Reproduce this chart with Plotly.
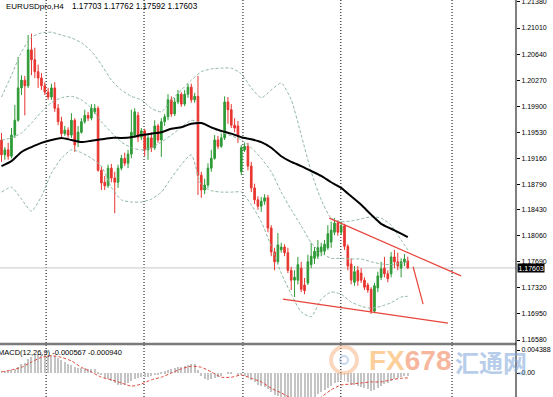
import plotly.graph_objects as go

# ---------------- data ----------------
bar_idx = list(range(123))

open_ = [1.1942, 1.1921, 1.1928, 1.1919, 1.1949, 1.1970, 1.2016, 1.2027, 1.2019, 1.2070,
         1.2056, 1.2039, 1.2030, 1.2019, 1.2010, 1.2003, 1.2016, 1.1987, 1.1968, 1.1951,
         1.1956, 1.1949, 1.1970, 1.1942, 1.1953, 1.1968, 1.1977, 1.1973, 1.1982, 1.1987,
         1.1899, 1.1882, 1.1877, 1.1902, 1.1888, 1.1882, 1.1902, 1.1916, 1.1909, 1.1922,
         1.1949, 1.1977, 1.1946, 1.1955, 1.1928, 1.1945, 1.1931, 1.1962, 1.1942, 1.1968,
         1.1975, 1.1999, 1.1979, 1.1996, 1.2007, 1.1993, 1.2007, 1.2017, 1.1999, 1.2004,
         1.1892, 1.1871, 1.1878, 1.1902, 1.1916, 1.1942, 1.1933, 1.1945, 1.1996, 1.1985,
         1.1963, 1.1962, 1.1897, 1.1928, 1.1933, 1.1905, 1.1874, 1.1857, 1.1848, 1.1855,
         1.1860, 1.1817, 1.1783, 1.1769, 1.1786, 1.1790, 1.1782, 1.1757, 1.1743, 1.1743,
         1.1760, 1.1736, 1.1739, 1.1765, 1.1774, 1.1777, 1.1783, 1.1784, 1.1789, 1.1797,
         1.1811, 1.1824, 1.1811, 1.1820, 1.1791, 1.1766, 1.1740, 1.1757, 1.1753, 1.1743,
         1.1736, 1.1730, 1.1699, 1.1732, 1.1747, 1.1760, 1.1752, 1.1752, 1.1776, 1.1769,
         1.1760, 1.1769, 1.17703]
high = [1.1952, 1.1932, 1.1938, 1.1959, 1.1992, 1.2060, 1.2034, 1.2033, 1.2091, 1.2093,
        1.2073, 1.2049, 1.2037, 1.2024, 1.2016, 1.2022, 1.2024, 1.1993, 1.1975, 1.1962,
        1.1960, 1.1980, 1.1973, 1.1962, 1.1973, 1.1985, 1.1982, 1.1993, 1.1993, 1.1990,
        1.1904, 1.1891, 1.1907, 1.1908, 1.1897, 1.1907, 1.1921, 1.1924, 1.1928, 1.1985,
        1.1987, 1.1982, 1.1959, 1.1958, 1.1951, 1.1953, 1.1970, 1.1965, 1.1973, 1.1979,
        1.2007, 1.2004, 1.2002, 1.2013, 1.2010, 1.2013, 1.2022, 1.2022, 1.2009, 1.2033,
        1.1897, 1.1887, 1.1909, 1.1928, 1.1949, 1.1948, 1.1951, 1.2004, 1.2003, 1.1993,
        1.1973, 1.1969, 1.1935, 1.1938, 1.1938, 1.1911, 1.1880, 1.1862, 1.1861, 1.1865,
        1.1864, 1.1821, 1.1789, 1.1810, 1.1796, 1.1794, 1.1789, 1.1762, 1.1757, 1.1776,
        1.1769, 1.1746, 1.1779, 1.1796, 1.1790, 1.1800, 1.1796, 1.1800, 1.1821, 1.1826,
        1.1831, 1.1828, 1.1826, 1.1823, 1.1794, 1.1774, 1.1763, 1.1763, 1.1760, 1.1747,
        1.1739, 1.1733, 1.1739, 1.1755, 1.1769, 1.1776, 1.1757, 1.1783, 1.1786, 1.1782,
        1.1774, 1.1780, 1.17762]
low = [1.1911, 1.1914, 1.1914, 1.1916, 1.1945, 1.1968, 1.2006, 1.1977, 1.2016, 1.2034,
       1.2030, 1.2016, 1.2013, 1.2006, 1.1999, 1.1999, 1.1982, 1.1963, 1.1946, 1.1948,
       1.1945, 1.1945, 1.1925, 1.1932, 1.1951, 1.1965, 1.1969, 1.1970, 1.1979, 1.1897,
       1.1871, 1.1871, 1.1874, 1.1882, 1.1838, 1.1874, 1.1899, 1.1905, 1.1902, 1.1916,
       1.1945, 1.1939, 1.1942, 1.1919, 1.1914, 1.1925, 1.1928, 1.1938, 1.1918, 1.1962,
       1.1970, 1.1975, 1.1976, 1.1993, 1.1989, 1.1990, 1.2002, 1.1995, 1.1995, 1.1864,
       1.1860, 1.1865, 1.1874, 1.1897, 1.1914, 1.1929, 1.1931, 1.1942, 1.1965, 1.1959,
       1.1953, 1.1938, 1.1892, 1.1925, 1.1899, 1.1868, 1.1851, 1.1843, 1.1840, 1.1850,
       1.1811, 1.1777, 1.1757, 1.1766, 1.1782, 1.1777, 1.1753, 1.1729, 1.1719, 1.1737,
       1.1726, 1.1723, 1.1736, 1.1760, 1.1766, 1.1773, 1.1777, 1.1779, 1.1786, 1.1789,
       1.1807, 1.1806, 1.1807, 1.1786, 1.1757, 1.1737, 1.1735, 1.1735, 1.1739, 1.1729,
       1.1725, 1.1695, 1.1696, 1.1726, 1.1743, 1.1747, 1.1740, 1.1747, 1.1760, 1.1757,
       1.1747, 1.1763, 1.17592]
close = [1.1921, 1.1928, 1.1919, 1.1949, 1.1970, 1.2016, 1.2027, 1.2019, 1.2070, 1.2056,
         1.2039, 1.2030, 1.2019, 1.2010, 1.2003, 1.2016, 1.1987, 1.1968, 1.1951, 1.1956,
         1.1949, 1.1970, 1.1935, 1.1953, 1.1968, 1.1977, 1.1973, 1.1987, 1.1987, 1.1899,
         1.1881, 1.1877, 1.1902, 1.1888, 1.1882, 1.1902, 1.1916, 1.1909, 1.1922, 1.1953,
         1.1982, 1.1946, 1.1955, 1.1928, 1.1945, 1.1931, 1.1962, 1.1942, 1.1968, 1.1975,
         1.1999, 1.1979, 1.1996, 1.2007, 1.1993, 1.2007, 1.2017, 1.1999, 1.2004, 1.1892,
         1.1871, 1.1878, 1.1902, 1.1916, 1.1942, 1.1933, 1.1945, 1.1996, 1.1985, 1.1963,
         1.1959, 1.1948, 1.1931, 1.1933, 1.1905, 1.1874, 1.1857, 1.1848, 1.1855, 1.1860,
         1.1817, 1.1783, 1.1769, 1.1793, 1.1790, 1.1782, 1.1757, 1.1743, 1.1747, 1.1765,
         1.1730, 1.1728, 1.1769, 1.1777, 1.1784, 1.1789, 1.1790, 1.1794, 1.1809, 1.1814,
         1.1824, 1.1811, 1.1820, 1.1791, 1.1763, 1.1743, 1.1755, 1.1742, 1.1743, 1.1733,
         1.1729, 1.1699, 1.1735, 1.1749, 1.1759, 1.1752, 1.1745, 1.1776, 1.1769, 1.1763,
         1.1769, 1.1773, 1.17603]

# indicator lines read at every third bar
ind_idx = [0, 3, 6, 9, 12, 15, 18, 21, 24, 27, 30, 33, 36, 39, 42, 45, 48, 51, 54, 57,
           60, 63, 66, 69, 72, 75, 78, 81, 84, 87, 90, 93, 96, 99, 102, 105, 108, 111,
           114, 117, 120, 122]
ma_line = [1.1905, 1.1912, 1.1925, 1.1932, 1.1938, 1.1942, 1.1945, 1.1942, 1.1939, 1.1941,
           1.1943, 1.1945, 1.1945, 1.1946, 1.1949, 1.1951, 1.1953, 1.1958, 1.1960, 1.1965,
           1.1966, 1.1960, 1.1955, 1.1951, 1.1946, 1.1943, 1.1939, 1.1931, 1.1919, 1.1911,
           1.1905, 1.1898, 1.1891, 1.1882, 1.1874, 1.1862, 1.1850, 1.1836, 1.1823, 1.1816,
           1.1809, 1.1804]
bb_upper = [1.2003, 1.2034, 1.2067, 1.2088, 1.2094, 1.2095, 1.2091, 1.2087, 1.2080, 1.2068,
            1.2049, 1.2027, 1.2013, 1.2004, 1.1999, 1.1987, 1.1982, 1.1999, 1.2013, 1.2027,
            1.2039, 1.2043, 1.2044, 1.2044, 1.2036, 1.2016, 1.2002, 1.2013, 1.2023, 1.1999,
            1.1949, 1.1897, 1.1857, 1.1831, 1.1826, 1.1827, 1.1830, 1.1833, 1.1831, 1.1821,
            1.1800, 1.1786]
bb_mid = [1.1942, 1.1945, 1.1952, 1.1966, 1.1982, 1.1995, 1.2002, 1.2004, 1.1999, 1.1987,
          1.1968, 1.1953, 1.1939, 1.1931, 1.1928, 1.1931, 1.1939, 1.1949, 1.1960, 1.1970,
          1.1966, 1.1959, 1.1953, 1.1948, 1.1942, 1.1931, 1.1916, 1.1897, 1.1868, 1.1843,
          1.1820, 1.1796, 1.1782, 1.1774, 1.1774, 1.1773, 1.1773, 1.1769, 1.1766, 1.1765,
          1.1767, 1.1769]
bb_lower = [1.1868, 1.1875, 1.1858, 1.1841, 1.1862, 1.1895, 1.1916, 1.1928, 1.1924, 1.1916,
            1.1905, 1.1875, 1.1857, 1.1854, 1.1854, 1.1858, 1.1868, 1.1888, 1.1907, 1.1921,
            1.1878, 1.1870, 1.1868, 1.1868, 1.1868, 1.1850, 1.1826, 1.1791, 1.1753, 1.1723,
            1.1698, 1.1691, 1.1716, 1.1726, 1.1723, 1.1712, 1.1706, 1.1703, 1.1706, 1.1711,
            1.1719, 1.1720]

macd_hist = [0.0004, 0.0004, 0.0004, 0.0005, 0.0007, 0.0012, 0.0017, 0.0020, 0.0026, 0.0031,
             0.0034, 0.0036, 0.0036, 0.0036, 0.0035, 0.0035, 0.0032, 0.0028, 0.0024, 0.0021,
             0.0018, 0.0016, 0.0012, 0.0010, 0.0009, 0.0009, 0.0008, 0.0008, 0.0008, 0.0002,
             -0.0004, -0.0009, -0.0011, -0.0016, -0.0020, -0.0022, -0.0023, -0.0022, -0.0020, -0.0016,
             -0.0011, -0.0009, -0.0008, -0.0008, -0.0007, -0.0006, -0.0003, -0.0002, 0.0001, 0.0003,
             0.0006, 0.0007, 0.0009, 0.0011, 0.0012, 0.0014, 0.0016, 0.0017, 0.0018, 0.0005,
             -0.0006, -0.0012, -0.0013, -0.0012, -0.0009, -0.0007, -0.0005, 0.0000, 0.0002, 0.0001,
             0.0000, -0.0002, -0.0004, -0.0005, -0.0008, -0.0013, -0.0018, -0.0022, -0.0025, -0.0027,
             -0.0031, -0.0037, -0.0042, -0.0044, -0.0046, -0.0048, -0.0051, -0.0054, -0.0056, -0.0055,
             -0.0056, -0.0057, -0.0053, -0.0049, -0.0045, -0.0041, -0.0037, -0.0033, -0.0028, -0.0024,
             -0.0019, -0.0017, -0.0014, -0.0015, -0.0018, -0.0022, -0.0023, -0.0025, -0.0026, -0.0028,
             -0.0030, -0.0034, -0.0032, -0.0028, -0.0024, -0.0021, -0.0020, -0.0015, -0.0012, -0.0010,
             -0.0008, -0.0006, -0.000567]
macd_signal = [0.0002, 0.0006, 0.0011, 0.0021, 0.0030, 0.0033, 0.0030, 0.0023, 0.0011, 0.0002,
               -0.0008, -0.0013, -0.0019, -0.0025, -0.0021, -0.0013, -0.0008, 0.0000, 0.0008, 0.0013,
               0.0011, 0.0002, -0.0008, -0.0008, -0.0004, -0.0010, -0.0017, -0.0029, -0.0038, -0.0048,
               -0.0055, -0.0055, -0.0046, -0.0032, -0.0023, -0.0021, -0.0019, -0.0017, -0.0017, -0.0013,
               -0.0010, -0.00094]

# hand-drawn trend lines (bar index, price)
tl_upper_x = [98.4, 138.0]
tl_upper_y = [1.1831, 1.1749]
tl_lower_x = [84.5, 134.1]
tl_lower_y = [1.1716, 1.1682]
tl_arrow_x = [123.6, 126.6]
tl_arrow_y = [1.1762, 1.1709]

# vertical period separators (bar index)
vgrid_idx = [13.4, 42.8, 72.5, 101.9, 135.3]

price_ticks = [1.21380, 1.21010, 1.20640, 1.20270, 1.19900, 1.19530, 1.19160,
               1.18790, 1.18430, 1.18060, 1.17690, 1.17320, 1.16950, 1.16580]
macd_ticks = [0.004388, 0.0]
macd_ticktext = ["0.004388", "0.00"]
last_price = 1.17603

title_symbol = "EURUSDpro,H4"
title_values = "1.17703 1.17762 1.17592 1.17603"
macd_label = "MACD(12,26,9) -0.000567 -0.000940"

# ---------------- styling ----------------
GREEN = "#2e9a36"
RED = "#e8352f"
BAND = "#8fb8a2"
FONT = "Liberation Sans, Arial, sans-serif"
W, H = 553, 397
PLOT_W = 516

fig = go.Figure()

fig.add_trace(go.Candlestick(
    x=bar_idx, open=open_, high=high, low=low, close=close,
    increasing=dict(line=dict(color=GREEN, width=1), fillcolor=GREEN),
    decreasing=dict(line=dict(color=RED, width=1), fillcolor=RED),
    whiskerwidth=0, hoverinfo="skip", showlegend=False, xaxis="x", yaxis="y"))

for band in (bb_upper, bb_mid, bb_lower):
    fig.add_trace(go.Scatter(x=ind_idx, y=band, mode="lines",
                             line=dict(color=BAND, width=1, dash="3px,2px", shape="spline", smoothing=0.6),
                             hoverinfo="skip", showlegend=False, xaxis="x", yaxis="y"))

fig.add_trace(go.Scatter(x=ind_idx, y=ma_line, mode="lines",
                         line=dict(color="black", width=2, shape="spline", smoothing=0.6),
                         hoverinfo="skip", showlegend=False, xaxis="x", yaxis="y"))

for tx, ty in ((tl_upper_x, tl_upper_y), (tl_lower_x, tl_lower_y), (tl_arrow_x, tl_arrow_y)):
    fig.add_trace(go.Scatter(x=tx, y=ty, mode="lines", line=dict(color="#e8453c", width=1.2),
                             hoverinfo="skip", showlegend=False, xaxis="x", yaxis="y", cliponaxis=False))

fig.add_trace(go.Bar(x=bar_idx, y=macd_hist, width=0.3,
                     marker=dict(color="#c4c4c4", line=dict(width=0)),
                     hoverinfo="skip", showlegend=False, xaxis="x", yaxis="y2"))
fig.add_trace(go.Scatter(x=ind_idx, y=macd_signal, mode="lines",
                         line=dict(color="#e0473a", width=1, dash="3px,2px", shape="spline", smoothing=0.6),
                         hoverinfo="skip", showlegend=False, xaxis="x", yaxis="y2"))

shapes = []
for gx in vgrid_idx:
    shapes.append(dict(type="line", xref="x", yref="paper", x0=gx, x1=gx, y0=0, y1=1,
                       line=dict(color="black", width=1, dash="1px,2px"), layer="below"))
shapes.append(dict(type="line", xref="paper", yref="y", x0=0, x1=1, y0=last_price, y1=last_price,
                   line=dict(color="#c8c8c8", width=1), layer="below"))
# panel separator and right axis line
sep_y = 1 - 344 / H
shapes.append(dict(type="line", xref="paper", yref="paper", x0=0, x1=1, y0=sep_y, y1=sep_y,
                   line=dict(color="#7a7a7a", width=2.5)))
shapes.append(dict(type="line", xref="paper", yref="paper", x0=1, x1=1, y0=0, y1=1,
                   line=dict(color="black", width=1)))
# watermark logo ring
shapes.append(dict(type="circle", xref="paper", yref="paper",
                   x0=331 / PLOT_W, x1=357 / PLOT_W, y0=1 - 373 / H, y1=1 - 347 / H,
                   line=dict(color="#f6a870", width=4), opacity=0.45))
shapes.append(dict(type="circle", xref="paper", yref="paper",
                   x0=340 / PLOT_W, x1=348 / PLOT_W, y0=1 - 364 / H, y1=1 - 356 / H,
                   line=dict(color="#8fb0d8", width=2), opacity=0.5))

annotations = [
    dict(xref="paper", yref="paper", x=4 / PLOT_W, y=1 - 7 / H, xanchor="left", yanchor="middle",
         text=title_symbol, showarrow=False, font=dict(family=FONT, size=8, color="black")),
    dict(xref="paper", yref="paper", x=70 / PLOT_W, y=1 - 7 / H, xanchor="left", yanchor="middle",
         text=title_values, showarrow=False, font=dict(family=FONT, size=8.2, color="black")),
    dict(xref="paper", yref="paper", x=-4 / PLOT_W, y=1 - 352 / H, xanchor="left", yanchor="middle",
         text=macd_label, showarrow=False, font=dict(family=FONT, size=7.5, color="black")),
    dict(xref="paper", yref="y", x=1, y=last_price, xanchor="left", yanchor="middle", xshift=1,
         text=f"{last_price:.5f}", showarrow=False, bgcolor="black", borderpad=0.5,
         font=dict(family=FONT, size=7, color="white")),
    dict(xref="paper", yref="paper", x=410 / PLOT_W, y=1 - 360 / H, xanchor="center", yanchor="middle",
         text="<b><span style='color:#fbbf7a'>FX</span><span style='color:#f5a07e'>678</span></b>",
         showarrow=False, opacity=0.75, font=dict(family=FONT, size=28)),
    dict(xref="paper", yref="paper", x=491 / PLOT_W, y=1 - 361 / H, xanchor="center", yanchor="middle",
         text="<b>汇通网</b>", showarrow=False, opacity=0.55,
         font=dict(family="Noto Sans CJK SC", size=24, color="#7ea6d8")),
]

axis_font = dict(family=FONT, size=7, color="black")
fig.update_layout(
    width=W, height=H, margin=dict(l=0, r=W - PLOT_W, t=0, b=0),
    paper_bgcolor="white", plot_bgcolor="white", showlegend=False,
    xaxis=dict(domain=[0, 1], range=[-0.45, 154.5], visible=False, showgrid=False,
               zeroline=False, rangeslider=dict(visible=False), anchor="y2"),
    yaxis=dict(domain=[1 - 343 / H, 1], range=[1.165374, 1.21408], side="right", anchor="x",
               tickvals=price_ticks, ticktext=[f"{v:.5f}" for v in price_ticks],
               ticks="outside", ticklen=3, tickcolor="black", tickfont=axis_font,
               ticklabeloverflow="allow",
               showgrid=False, zeroline=False, showline=False, automargin=False),
    yaxis2=dict(domain=[0, 1 - 345 / H], range=[-0.00458, 0.00535], side="right", anchor="x",
                tickvals=macd_ticks, ticktext=macd_ticktext,
                ticks="outside", ticklen=3, tickcolor="black", tickfont=axis_font,
                ticklabeloverflow="allow",
                showgrid=False, zeroline=False, showline=False, automargin=False),
    shapes=shapes, annotations=annotations, bargap=0,
)

fig.write_html("out.html")
